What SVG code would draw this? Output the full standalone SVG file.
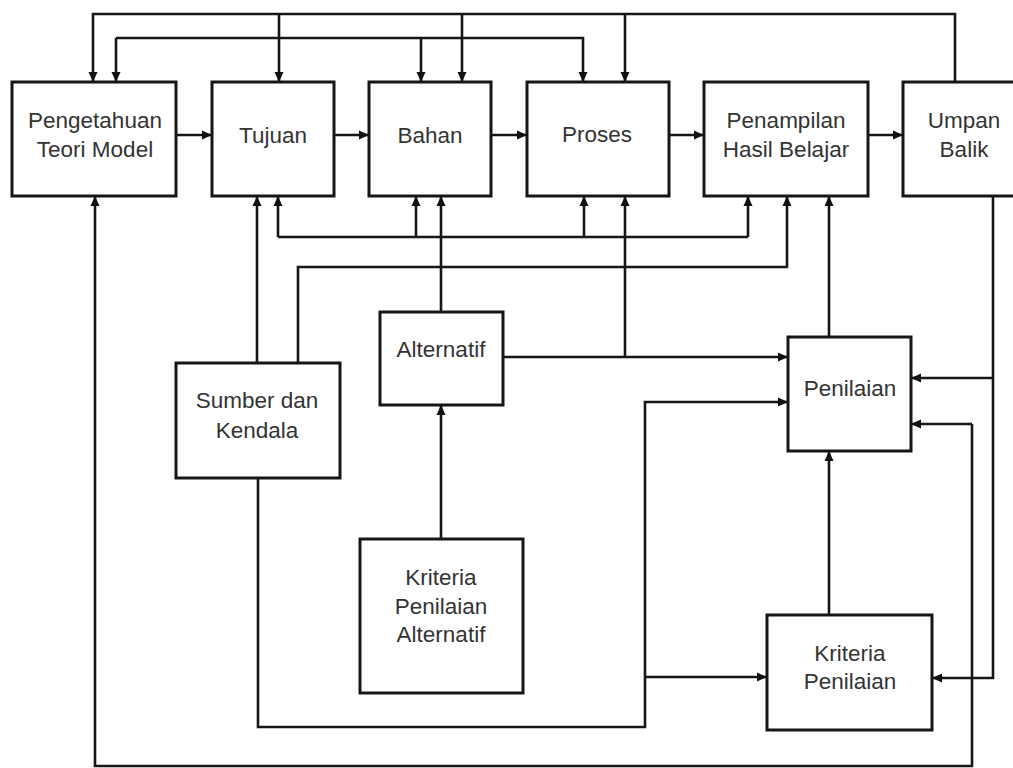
<svg xmlns="http://www.w3.org/2000/svg" width="1013" height="768" viewBox="0 0 1013 768">
<defs>
<marker id="ah" markerUnits="userSpaceOnUse" markerWidth="11" markerHeight="10" refX="10" refY="5" orient="auto">
<path d="M0,0.5 L10,5 L0,9.5 z" fill="#111"/>
</marker>
<style>
.box{fill:#fff;stroke:#161616;stroke-width:3}
.t{font-family:"Liberation Sans",Arial,sans-serif;font-size:22.5px;fill:#333;text-anchor:middle}
.c{fill:none;stroke:#161616;stroke-width:2.6}
.a{marker-end:url(#ah)}
</style>
</defs>
<rect width="1013" height="768" fill="#fff"/>
<g id="connectors">
<path class="c a" d="M955,82 V14 H93 V82"/>
<path class="c a" d="M279,14 V82"/>
<path class="c a" d="M462,14 V82"/>
<path class="c a" d="M625,14 V82"/>
<path class="c a" d="M116,38 V82"/>
<path class="c a" d="M116,38 H583 V82"/>
<path class="c a" d="M421,38 V82"/>
<path class="c a" d="M176,135 H212"/>
<path class="c a" d="M334,135 H369"/>
<path class="c a" d="M491,135 H527"/>
<path class="c a" d="M669,135 H704"/>
<path class="c a" d="M868,135 H903"/>
<path class="c" d="M278,237 H748"/>
<path class="c a" d="M278,237 V196"/>
<path class="c a" d="M416,237 V196"/>
<path class="c a" d="M584,237 V196"/>
<path class="c a" d="M748,237 V196"/>
<path class="c a" d="M257,363 V196"/>
<path class="c a" d="M298,363 V267 H787 V196"/>
<path class="c a" d="M441,312 V196"/>
<path class="c a" d="M503,357 H788"/>
<path class="c a" d="M625,357 V196"/>
<path class="c a" d="M441,539 V405"/>
<path class="c a" d="M829,337 V196"/>
<path class="c a" d="M829,615 V451"/>
<path class="c a" d="M258,478 V727 H645 V402 H788"/>
<path class="c a" d="M645,677 H767"/>
<path class="c a" d="M993,196 V678 H932"/>
<path class="c a" d="M993,378 H911"/>
<path class="c a" d="M972,424 H911"/>
<path class="c a" d="M972,424 V766 H95 V196"/>
</g>
<g id="pengetahuan"><rect class="box" x="12" y="82" width="164" height="114"/><text class="t" x="95" y="128">Pengetahuan</text><text class="t" x="95" y="157">Teori Model</text></g>
<g id="tujuan"><rect class="box" x="212" y="82" width="122" height="114"/><text class="t" x="273" y="143">Tujuan</text></g>
<g id="bahan"><rect class="box" x="369" y="82" width="122" height="114"/><text class="t" x="430" y="143">Bahan</text></g>
<g id="proses"><rect class="box" x="527" y="82" width="142" height="114"/><text class="t" x="597" y="142">Proses</text></g>
<g id="penampilan"><rect class="box" x="704" y="82" width="164" height="114"/><text class="t" x="786" y="128">Penampilan</text><text class="t" x="786" y="157">Hasil Belajar</text></g>
<g id="umpan-balik"><rect class="box" x="903" y="82" width="130" height="114"/><text class="t" x="964" y="128">Umpan</text><text class="t" x="964" y="157">Balik</text></g>
<g id="sumber"><rect class="box" x="176" y="363" width="164" height="115"/><text class="t" x="257" y="408">Sumber dan</text><text class="t" x="257" y="438">Kendala</text></g>
<g id="alternatif"><rect class="box" x="380" y="312" width="123" height="93"/><text class="t" x="441" y="357">Alternatif</text></g>
<g id="penilaian"><rect class="box" x="788" y="337" width="123" height="114"/><text class="t" x="850" y="396">Penilaian</text></g>
<g id="kriteria-alternatif"><rect class="box" x="360" y="539" width="163" height="154"/><text class="t" x="441" y="585">Kriteria</text><text class="t" x="441" y="614">Penilaian</text><text class="t" x="441" y="642">Alternatif</text></g>
<g id="kriteria-penilaian"><rect class="box" x="767" y="615" width="165" height="115"/><text class="t" x="850" y="661">Kriteria</text><text class="t" x="850" y="689">Penilaian</text></g>
</svg>
